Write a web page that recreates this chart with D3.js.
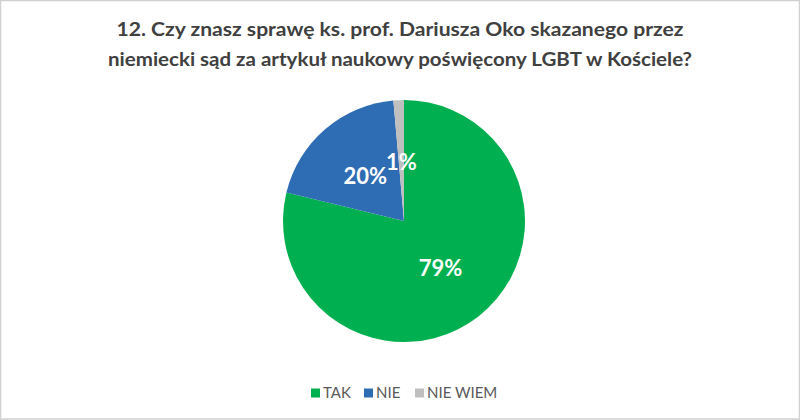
<!DOCTYPE html>
<html>
<head>
<meta charset="utf-8">
<script src="https://cdn.jsdelivr.net/npm/d3@7"></script>
<style>
  body { margin: 0; background: #fff; }
  svg { display: block; font-family: Lato, "Open Sans", sans-serif; }
</style>
</head>
<body>
<div class="canvas"></div>
<script>
const titleLines = [
  "12. Czy znasz sprawę ks. prof. Dariusza Oko skazanego przez",
  "niemiecki sąd za artykuł naukowy poświęcony LGBT w Kościele?",
];
const categories = ["TAK", "NIE", "NIE WIEM"];
const values = [78.8, 19.8, 1.4];
const labels = ["79%", "20%", "1%"];
const colors = ["#00B050", "#2E6DB4", "#BFBFBF"];

const width = 800;
const height = 420;
const radius = 121;
const cx = 404;
const cy = 221;

const svg = d3
  .select(".canvas")
  .append("svg")
  .attr("width", width)
  .attr("height", height);

svg
  .append("rect")
  .attr("x", 0.5)
  .attr("y", 0.5)
  .attr("width", width - 1)
  .attr("height", height - 1.5)
  .attr("fill", "#fff")
  .attr("stroke", "#d0d0d0")
  .attr("stroke-width", 1.5);

// title, stretched to the widths measured on the reference
const titleWidths = [567, 584];
svg
  .selectAll(".title")
  .data(titleLines)
  .enter()
  .append("text")
  .attr("class", "title")
  .attr("x", width / 2)
  .attr("y", (d, i) => 36 + i * 29.5)
  .attr("text-anchor", "middle")
  .attr("textLength", (d, i) => titleWidths[i])
  .attr("lengthAdjust", "spacingAndGlyphs")
  .style("font-size", "19px")
  .style("font-weight", "bold")
  .style("fill", "#404040")
  .text((d) => d);

const data = categories.map((c, i) => ({ name: c, value: values[i], label: labels[i] }));

const pie = d3.pie().sort(null).value((d) => d.value);
const arc = d3.arc().innerRadius(0).outerRadius(radius);
const labelArc = d3.arc().innerRadius(radius * 0.49).outerRadius(radius * 0.49);
const arcs = pie(data);

const chart = svg.append("g").attr("transform", `translate(${cx}, ${cy})`);

chart
  .selectAll("path")
  .data(arcs)
  .enter()
  .append("path")
  .attr("d", arc)
  .style("fill", (d, i) => colors[i]);

chart
  .selectAll(".label")
  .data(arcs)
  .enter()
  .append("text")
  .attr("class", "label")
  .attr("transform", (d) => `translate(${labelArc.centroid(d)})`)
  .attr("text-anchor", "middle")
  .attr("dy", "0.36em")
  .style("font-size", "22px")
  .style("font-weight", "bold")
  .style("fill", "#fff")
  .text((d) => d.data.label);

// legend
const legendOffsets = [311, 364, 415];
const legend = svg.append("g").attr("transform", `translate(0, 393)`);

const items = legend
  .selectAll("g")
  .data(categories)
  .enter()
  .append("g")
  .attr("transform", (d, i) => `translate(${legendOffsets[i]}, 0)`);

items
  .append("rect")
  .attr("x", 0)
  .attr("y", -4.5)
  .attr("width", 9)
  .attr("height", 9)
  .style("fill", (d, i) => colors[i]);

items
  .append("text")
  .attr("x", 12)
  .attr("dy", "0.36em")
  .style("font-size", "15px")
  .style("fill", "#595959")
  .text((d) => d);
</script>
</body>
</html>
